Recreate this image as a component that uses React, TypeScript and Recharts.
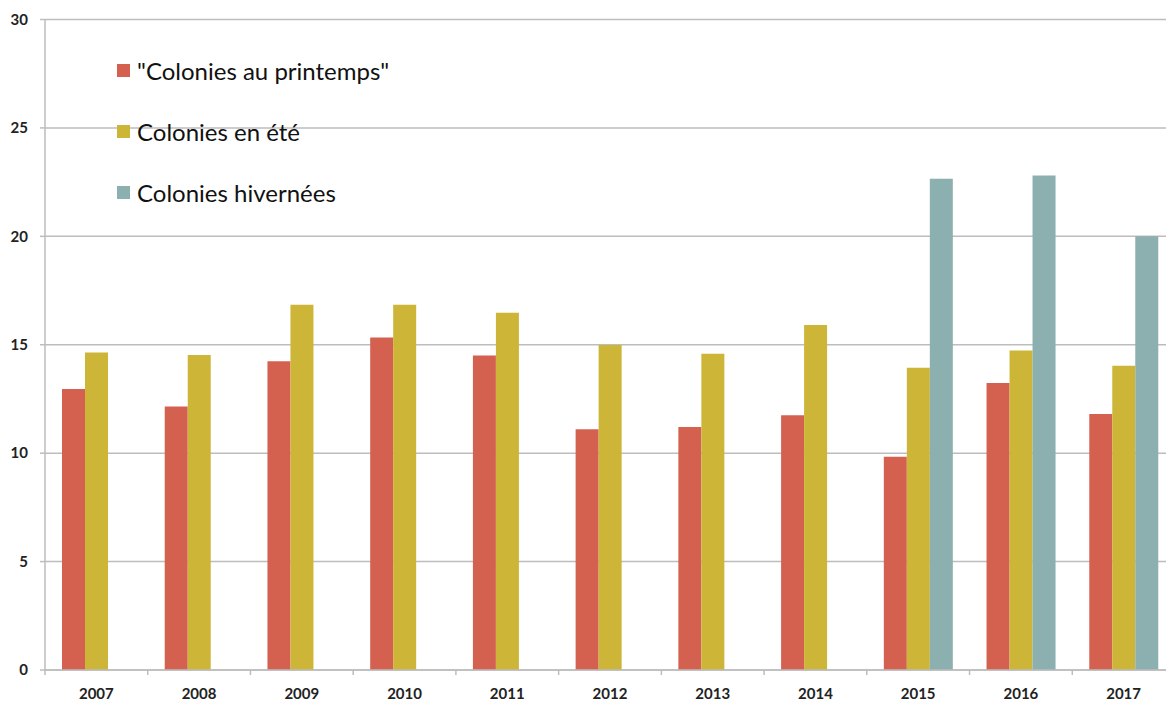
import { BarChart, Bar, XAxis, YAxis, CartesianGrid, Legend } from 'recharts'

const annees = ['2007', '2008', '2009', '2010', '2011', '2012', '2013', '2014', '2015', '2016', '2017']
const printemps = [12.96, 12.15, 14.24, 15.33, 14.5, 11.1, 11.21, 11.75, 9.83, 13.24, 11.81]
const ete = [14.64, 14.53, 16.84, 16.84, 16.48, 14.99, 14.59, 15.91, 13.94, 14.74, 14.03]
const hivernees = [null, null, null, null, null, null, null, null, 22.66, 22.8, 20.0]
const yTicks = [0, 5, 10, 15, 20, 25, 30]

const series = [
  { key: 'printemps', nom: '"Colonies au printemps"', couleur: '#D46150' },
  { key: 'ete', nom: 'Colonies en été', couleur: '#CDB537' },
  { key: 'hivernees', nom: 'Colonies hivernées', couleur: '#8CAFAF' },
]

const donnees = annees.map((a, i) => ({
  annee: a,
  printemps: printemps[i],
  ete: ete[i],
  hivernees: hivernees[i],
}))

const LARGEUR = 1182
const HAUTEUR = 702
const AXE_X = 30
const MARGE = { top: 19.5, right: 7, bottom: 32 - AXE_X, left: 0 }
const AXE_Y = 45
const BANDE = (LARGEUR - MARGE.left - MARGE.right - AXE_Y) / annees.length
const POLICE = 'Lato, "Open Sans", sans-serif'
const GRIS = '#bdbdbd'

function TickAnnee(props: any) {
  const { x, y, payload, index } = props
  return (
    <g>
      <line x1={x - BANDE / 2} x2={x - BANDE / 2} y1={y} y2={y + 5} stroke={GRIS} strokeWidth={1.5} />
      {index === annees.length - 1 && (
        <line x1={x + BANDE / 2} x2={x + BANDE / 2} y1={y} y2={y + 5} stroke={GRIS} strokeWidth={1.5} />
      )}
      <text x={x} y={y + 29} textAnchor="middle" fontSize={15} fontWeight={700} fill="#222" fontFamily={POLICE}>
        {payload.value}
      </text>
    </g>
  )
}

function Legende() {
  return (
    <div style={{ fontFamily: POLICE }}>
      {series.map(s => (
        <div key={s.key} style={{ display: 'flex', alignItems: 'center', height: 61 }}>
          <span style={{ width: 13, height: 13, background: s.couleur, display: 'inline-block', marginRight: 7 }} />
          <span style={{ fontSize: 24, color: '#111', lineHeight: '24px' }}>{s.nom}</span>
        </div>
      ))}
    </div>
  )
}

export default function App() {
  return (
    <div style={{ position: 'absolute', left: 0, top: 0, width: 1166, height: HAUTEUR, overflow: 'hidden', background: '#fff' }}>
      <BarChart
        width={LARGEUR}
        height={HAUTEUR}
        data={donnees}
        margin={MARGE}
        barCategoryGap={17}
        barGap={0}
      >
        <CartesianGrid vertical={false} stroke={GRIS} strokeWidth={1.5} />
        <XAxis
          dataKey="annee"
          height={AXE_X}
          axisLine={{ stroke: GRIS, strokeWidth: 1.5 }}
          tickLine={false}
          tickSize={0}
          tickMargin={0}
          tick={<TickAnnee />}
          interval={0}
        />
        <YAxis
          width={AXE_Y}
          domain={[0, 30]}
          ticks={yTicks}
          interval={0}
          axisLine={{ stroke: GRIS, strokeWidth: 1.5 }}
          tickLine={{ stroke: GRIS, strokeWidth: 1.5 }}
          tickSize={5}
          tickMargin={12}
          tick={{ fontSize: 15, fontWeight: 700, fill: '#222', fontFamily: POLICE }}
        />
        <Legend
          layout="vertical"
          align="center"
          verticalAlign="middle"
          content={<Legende />}
          wrapperStyle={{ position: 'absolute', left: 117, top: 40, width: 'auto' }}
        />
        {series.map(s => (
          <Bar key={s.key} dataKey={s.key} name={s.nom} fill={s.couleur} isAnimationActive={false} />
        ))}
      </BarChart>
    </div>
  )
}
